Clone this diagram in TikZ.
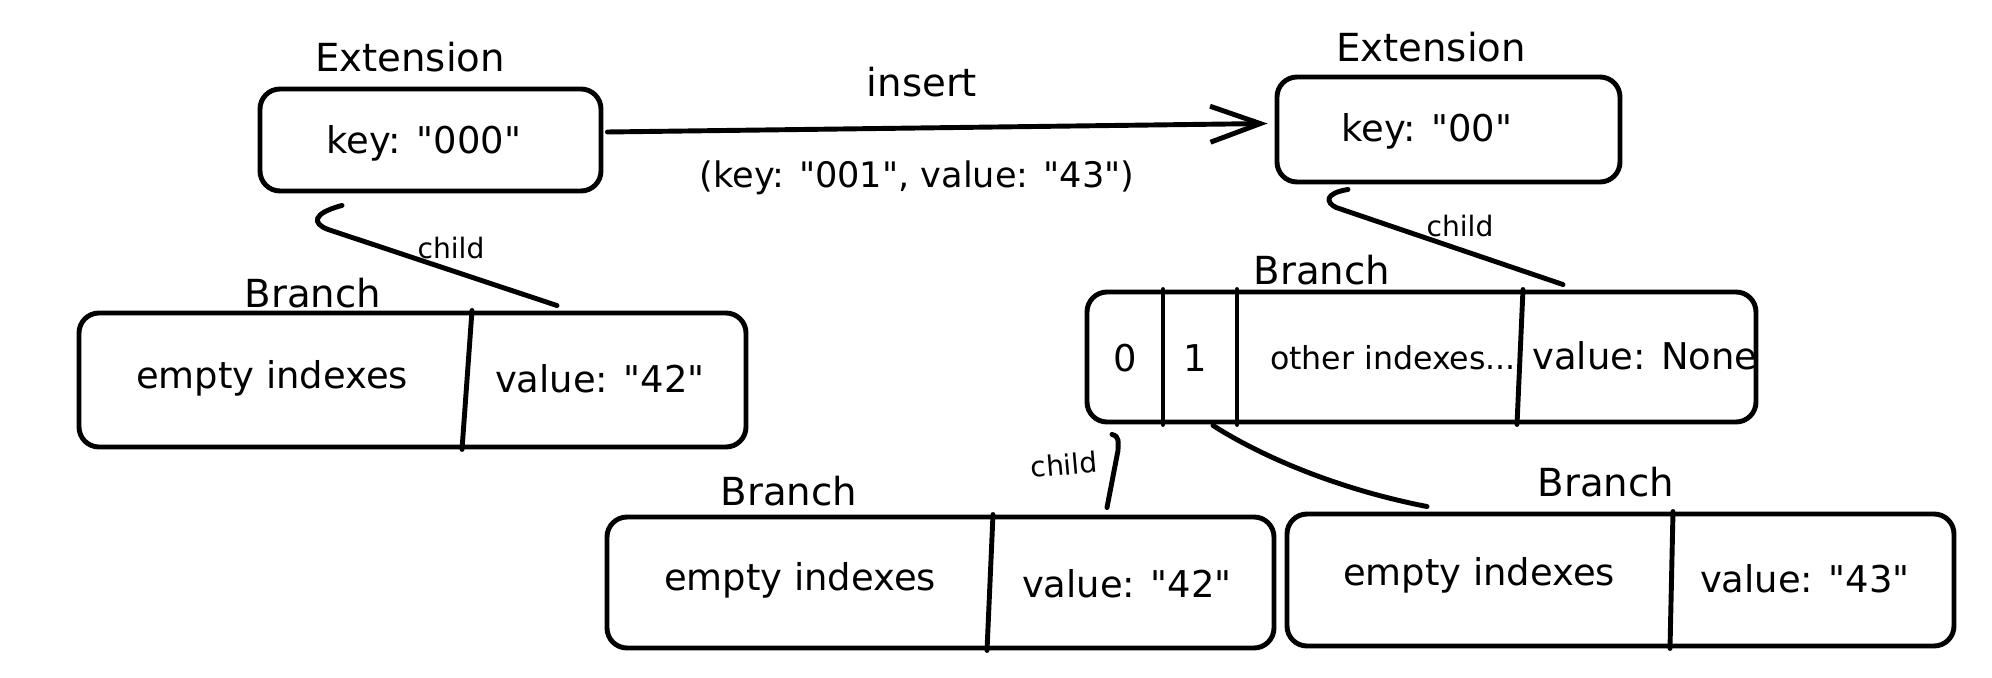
\documentclass[tikz,border=0pt]{standalone}
\usepackage{fontspec}
\setmainfont{DejaVu Sans}[Ligatures=TeXOff]
\usetikzlibrary{arrows.meta}

\begin{document}
\begin{tikzpicture}[x=0.1mm,y=-0.1mm,
  box/.style={draw,line width=1.4pt,rounded corners=2mm,inner sep=0pt},
  title/.style={anchor=base,inner sep=0pt,font=\fontsize{11}{13}\selectfont},
  cell/.style={anchor=base,inner sep=0pt,font=\fontsize{10.5}{12}\selectfont},
  note/.style={anchor=base,inner sep=0pt,font=\fontsize{8}{10}\selectfont},
  link/.style={line width=1.4pt,line cap=round}]
  \useasboundingbox (0,0) rectangle (1992,678);

  % extension before the insert
  \node[box,minimum width=34.1mm,minimum height=10.2mm] (ext1) at (430.5,140) {};
  \node[title] (ext1t) at (410,72) {Extension};
  \node[cell] (ext1k) at (424,154) {key: "000"};

  \node[box,minimum width=66.7mm,minimum height=13.4mm] (br1) at (412.5,380) {};
  \node[title] (br1t) at (313,307) {Branch};
  \node[cell] (br1a) at (272,388) {empty indexes};
  \node[cell] (br1b) at (600,392) {value: "42"};
  \draw[link] ([shift={(59.5,0)}]br1.north) -- ([shift={(49.5,0)}]br1.south);

  \draw[link] ([shift={(-88.5,12)}]ext1.south) .. controls +(-30,8) and +(-16,-6) .. ++(-14,24)
    -- ([shift={(144.5,-5)}]br1.north);
  \node[note] (ch1) at (451,258) {child};

  % extension after the insert
  \node[box,minimum width=34.3mm,minimum height=10.5mm] (ext2) at (1448.5,129.5) {};
  \node[title] (ext2t) at (1431,62) {Extension};
  \node[cell] (ext2k) at (1427,142) {key: "00"};

  % insert
  \draw[link,-{Straight Barb[length=5mm,width=3.6mm]}] ([shift={(4,-8)}]ext1.east) -- ([shift={(-7,-6)}]ext2.west);
  \node[title] (ins) at (922,97) {insert};
  \node[cell,font=\fontsize{10}{12}\selectfont] (args) at (917,188) {(key: "001", value: "43")};

  \node[box,minimum width=66.9mm,minimum height=13mm] (br2) at (1421.5,357) {};
  \node[title] (br2t) at (1322,285) {Branch};
  \node[cell] (br2a) at (1125,372) {0};
  \node[cell] (br2b) at (1195,372) {1};
  \node[cell,font=\fontsize{9}{11}\selectfont] (br2c) at (1393,370) {other indexes...};
  \node[cell] (br2d) at (1645,370) {value: None};
  \draw[link] ([shift={(-258.5,0)}]br2.north) -- ([shift={(-258.5,0)}]br2.south);
  \draw[link] ([shift={(-184.5,0)}]br2.north) -- ([shift={(-184.5,0)}]br2.south);
  \draw[link] ([shift={(101.5,0)}]br2.north) -- ([shift={(95.5,0)}]br2.south);

  \draw[link] ([shift={(-100.5,5)}]ext2.south) .. controls +(-24,4) and +(-10,-5) .. ++(-12,18)
    -- ([shift={(141.5,-5)}]br2.north);
  \node[note] (ch2) at (1460,237) {child};

  \node[box,minimum width=66.7mm,minimum height=13.1mm] (br3) at (940.5,582.5) {};
  \node[title] (br3t) at (789,505) {Branch};
  \node[cell] (br3a) at (800,590) {empty indexes};
  \node[cell] (br3b) at (1127,597) {value: "42"};
  \draw[link] ([shift={(52.5,0)}]br3.north) -- ([shift={(46.5,0)}]br3.south);

  \node[box,minimum width=66.7mm,minimum height=13.2mm] (br4) at (1620.5,580) {};
  \node[title] (br4t) at (1606,496) {Branch};
  \node[cell] (br4a) at (1479,585) {empty indexes};
  \node[cell] (br4b) at (1805,592) {value: "43"};
  \draw[link] ([shift={(52.5,0)}]br4.north) -- ([shift={(49.5,0)}]br4.south);

  % children of index 0 and 1
  \draw[link] ([shift={(-309.5,10)}]br2.south) .. controls +(8,2) and +(0,-8) .. ++(6,16)
    -- ([shift={(166.5,-7)}]br3.north);
  \node[note,rotate=5] (ch3) at (1065,475) {child};
  \draw[link] ([shift={(-208.5,1)}]br2.south) .. controls +(42,27) and +(-97,-19) .. ([shift={(-193.5,-5)}]br4.north);
\end{tikzpicture}
\end{document}
